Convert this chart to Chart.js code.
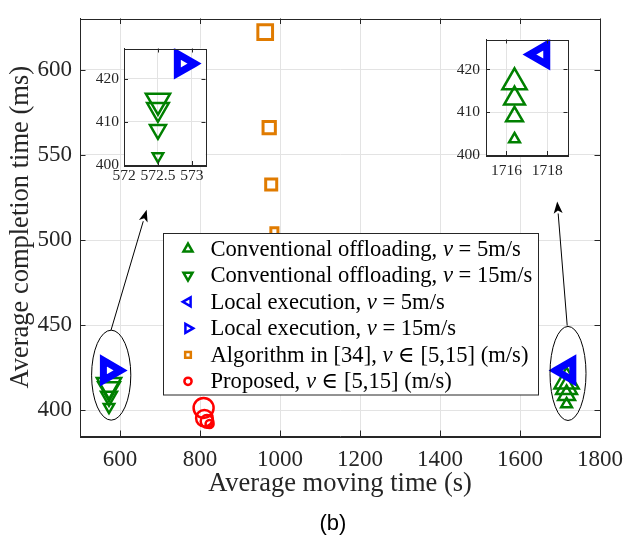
<!DOCTYPE html>
<html>
<head>
<meta charset="utf-8">
<script src="https://cdn.jsdelivr.net/npm/chart.js@4.4.1/dist/chart.umd.min.js"></script>
<style>
  body { margin: 0; background: #fff; }
  #wrap { position: relative; width: 624px; height: 541px; overflow: hidden; }
  #wrap canvas { position: absolute; }
  #cap { position: absolute; left: 283px; top: 508px; width: 100px; text-align: center;
         font: 22px "Liberation Sans", Arial, sans-serif; color: #000; line-height: 30px; }
</style>
</head>
<body>
<div id="wrap">
  <canvas id="main" width="624" height="541" style="left:0;top:0"></canvas>
  <canvas id="insetL" width="140" height="170" style="left:84px;top:30px"></canvas>
  <canvas id="insetR" width="140" height="164" style="left:446px;top:21px"></canvas>
  <div id="cap">(b)</div>
</div>
<script>
// values
const conv5X = [1716.4, 1716.4, 1716.4, 1716.4];
const conv5Y = [417.0, 413.2, 409.0, 403.7];
const conv15X = [572.5, 572.5, 572.5, 572.5];
const conv15Y = [414.9, 412.9, 408.2, 402.0];
const local5X = [1717.7];
const local5Y = [423.5];
const local15X = [572.87];
const local15Y = [423.5];
const alg34X = [963, 973, 978, 986];
const alg34Y = [622, 566, 532.6, 505.2];
const propX = [809, 811, 817.5, 824];
const propY = [401.5, 395.4, 393.6, 392.0];

const xTicks = [600, 800, 1000, 1200, 1400, 1600, 1800];
const yTicks = [400, 450, 500, 550, 600];
const insetLXTicks = [572, 572.5, 573];
const insetRXTicks = [1716, 1718];
const insetYTicks = [400, 410, 420];

const labels = [
  'Conventional offloading, v = 5m/s',
  'Conventional offloading, v = 15m/s',
  'Local execution, v = 5m/s',
  'Local execution, v = 15m/s',
  'Algorithm in [34], v \u2208 [5,15] (m/s)',
  'Proposed, v \u2208 [5,15] (m/s)'
];

// ellipses and arrows, in data units
const ellipses = [
  { cx: 578, cy: 420.7, rx: 49, ry: 26.4 },
  { cx: 1720, cy: 421.7, rx: 45, ry: 27.6 }
];
const arrows = [
  { x0: 577.5, y0: 447.1, x1: 666.7, y1: 517.8 },
  { x0: 1718, y0: 449.8, x1: 1693, y1: 522.6 }
];

const pts = (xs, ys) => xs.map((x, i) => ({ x: x, y: ys[i] }));

// marker styles
const styles = [
  { color: '#008000', pointStyle: 'triangle', rotation: 0,   radius: [14, 12, 9.7, 6.2], lw: 2.5, legR: 5.2 },
  { color: '#008000', pointStyle: 'triangle', rotation: 180, radius: [14, 12.5, 9.2, 6], lw: 2.5, legR: 5.2 },
  { color: '#0000ff', pointStyle: 'triangle', rotation: 270, radius: [11.5], lw: 7, legR: 5.2 },
  { color: '#0000ff', pointStyle: 'triangle', rotation: 90,  radius: [11.5], lw: 7, legR: 5.2 },
  { color: '#e07b00', pointStyle: 'rect', rotation: 0, radius: [10.4, 8.7, 7.8, 5], lw: 3, legR: 4 },
  { color: '#ff0000', pointStyle: 'circle', rotation: 0, radius: [10, 8.3, 6.3, 4], lw: 2.5, legR: 3.6 }
];
const seriesData = [
  pts(conv5X, conv5Y), pts(conv15X, conv15Y), pts(local5X, local5Y),
  pts(local15X, local15Y), pts(alg34X, alg34Y), pts(propX, propY)
];

function makeSet(i) {
  const s = styles[i];
  return {
    label: labels[i],
    data: seriesData[i],
    showLine: false,
    order: 10 - i,
    pointStyle: s.pointStyle,
    rotation: s.rotation,
    pointRadius: s.radius,
    pointBorderWidth: s.lw,
    borderColor: s.color,
    pointBorderColor: s.color,
    backgroundColor: 'rgba(0,0,0,0)',
    pointBackgroundColor: 'rgba(0,0,0,0)'
  };
}

const ink = '#262626';
const gridColor = '#e3e3e3';

// box on all four sides with inward ticks
const frame = {
  id: 'frame',
  afterDatasetsDraw(chart, args, opts) {
    const { ctx, chartArea: a, scales: { x, y } } = chart;
    const t = opts.tick;
    ctx.save();
    ctx.strokeStyle = ink;
    ctx.lineWidth = 1;
    ctx.beginPath();
    x.ticks.forEach(tk => {
      const px = Math.round(x.getPixelForValue(tk.value)) + 0.5;
      ctx.moveTo(px, a.bottom); ctx.lineTo(px, a.bottom - t);
      ctx.moveTo(px, a.top); ctx.lineTo(px, a.top + t);
    });
    y.ticks.forEach(tk => {
      const py = Math.round(y.getPixelForValue(tk.value)) + 0.5;
      ctx.moveTo(a.left, py); ctx.lineTo(a.left + t, py);
      ctx.moveTo(a.right, py); ctx.lineTo(a.right - t, py);
    });
    ctx.stroke();
    ctx.strokeRect(Math.round(a.left) + 0.5, Math.round(a.top) + 0.5,
                   Math.round(a.right - a.left), Math.round(a.bottom - a.top));
    ctx.restore();
  }
};

const whiteBox = {
  id: 'whiteBox',
  beforeDraw(chart) {
    const { ctx, chartArea: a } = chart;
    ctx.save();
    ctx.fillStyle = '#fff';
    ctx.fillRect(a.left, a.top, a.right - a.left, a.bottom - a.top);
    ctx.restore();
  }
};

function drawLabel(ctx, text, x, y) {
  const parts = text.split(' v ');
  const rm = '22.6px "Liberation Serif", "DejaVu Serif", serif';
  const it = 'italic 22.6px "Liberation Serif", "DejaVu Serif", serif';
  ctx.font = rm;
  ctx.fillText(parts[0] + ' ', x, y);
  x += ctx.measureText(parts[0] + ' ').width;
  ctx.font = it;
  ctx.fillText('v', x, y);
  x += ctx.measureText('v').width;
  ctx.font = rm;
  ctx.fillText(' ' + parts[1], x, y);
}

const decor = {
  id: 'decor',
  afterDatasetsDraw(chart) {
    const { ctx, scales: { x, y } } = chart;
    ctx.save();
    ctx.strokeStyle = '#000';
    ctx.fillStyle = '#000';
    ctx.lineWidth = 1;
    ellipses.forEach(e => {
      const cx = x.getPixelForValue(e.cx), cy = y.getPixelForValue(e.cy);
      const rx = Math.abs(x.getPixelForValue(e.cx + e.rx) - cx);
      const ry = Math.abs(y.getPixelForValue(e.cy + e.ry) - cy);
      ctx.beginPath();
      ctx.ellipse(cx, cy, rx, ry, 0, 0, Math.PI * 2);
      ctx.stroke();
    });
    arrows.forEach(r => {
      const x0 = x.getPixelForValue(r.x0), y0 = y.getPixelForValue(r.y0);
      const x1 = x.getPixelForValue(r.x1), y1 = y.getPixelForValue(r.y1);
      const ang = Math.atan2(y1 - y0, x1 - x0);
      const len = 12, half = 4.5;
      const bx = x1 - Math.cos(ang) * len, by = y1 - Math.sin(ang) * len;
      ctx.beginPath();
      ctx.moveTo(x0, y0); ctx.lineTo(bx, by);
      ctx.stroke();
      ctx.beginPath();
      ctx.moveTo(x1, y1);
      ctx.lineTo(bx + Math.sin(ang) * half, by - Math.cos(ang) * half);
      ctx.lineTo(x1 - Math.cos(ang) * len * 0.75, y1 - Math.sin(ang) * len * 0.75);
      ctx.lineTo(bx - Math.sin(ang) * half, by + Math.cos(ang) * half);
      ctx.closePath();
      ctx.fill();
    });

    // legend box
    const L = 163.5, T = 233.5, W = 375, H = 161.5;
    ctx.fillStyle = '#fff';
    ctx.fillRect(L, T, W, H);
    ctx.strokeStyle = ink;
    ctx.strokeRect(L, T, W, H);
    labels.forEach((lab, i) => {
      const s = styles[i];
      const ry = 248.8 + i * 26.5;
      ctx.strokeStyle = s.color;
      ctx.fillStyle = 'rgba(0,0,0,0)';
      ctx.lineWidth = 2.5;
      Chart.helpers.drawPoint(ctx, { pointStyle: s.pointStyle, rotation: s.rotation, radius: s.legR, borderWidth: 2.5 }, 188, ry);
      ctx.fillStyle = '#000';
      ctx.textBaseline = 'middle';
      ctx.textAlign = 'left';
      drawLabel(ctx, lab, 210.5, ry + 1);
    });
    ctx.restore();
  }
};

const serif = '"Liberation Serif", "DejaVu Serif", serif';
const noPad = s => { s.paddingLeft = 0; s.paddingRight = 0; s.paddingTop = 0; s.paddingBottom = 0; };

new Chart(document.getElementById('main'), {
  type: 'scatter',
  data: { datasets: [0, 1, 2, 3, 4, 5].map(makeSet) },
  options: {
    responsive: false,
    animation: false,
    events: [],
    layout: { padding: { top: 9, right: 24, left: 0, bottom: 0 } },
    plugins: { legend: { display: false }, tooltip: { enabled: false }, frame: { tick: 5.5 } },
    scales: {
      x: {
        type: 'linear', min: 500, max: 1800,
        afterBuildTicks: s => { s.ticks = xTicks.map(v => ({ value: v })); },
        afterFit: s => { s.height = 105; noPad(s); },
        grid: { color: gridColor, drawTicks: false },
        border: { color: ink },
        ticks: { padding: 10, color: ink, maxRotation: 0, autoSkip: false,
                 font: { family: serif, size: 23 }, callback: v => String(v) },
        title: { display: true, text: 'Average moving time (s)', color: ink,
                 font: { family: serif, size: 26.5 }, padding: { top: 0, bottom: 41 } }
      },
      y: {
        type: 'linear', min: 385, max: 630,
        afterBuildTicks: s => { s.ticks = yTicks.map(v => ({ value: v })); },
        afterFit: s => { s.width = 80; noPad(s); },
        grid: { color: gridColor, drawTicks: false },
        border: { color: ink },
        ticks: { padding: 8, color: ink, autoSkip: false,
                 font: { family: serif, size: 23 }, callback: v => String(v) },
        title: { display: true, text: 'Average completion time (ms)', color: ink,
                 font: { family: serif, size: 26.5 }, padding: { top: 5, bottom: 0 } }
      }
    }
  },
  plugins: [decor, frame]
});

function inset(id, sets, xmin, xmax, xt, padTop, padRight, xh, xPad, yPad) {
  new Chart(document.getElementById(id), {
    type: 'scatter',
    data: { datasets: sets.map(makeSet) },
    options: {
      responsive: false,
      animation: false,
      events: [],
      layout: { padding: { top: padTop, right: padRight, left: 0, bottom: 0 } },
      plugins: { legend: { display: false }, tooltip: { enabled: false }, frame: { tick: 4 } },
      scales: {
        x: {
          type: 'linear', min: xmin, max: xmax,
          afterBuildTicks: s => { s.ticks = xt.map(v => ({ value: v })); },
          afterFit: s => { s.height = xh; noPad(s); },
          grid: { color: gridColor, drawTicks: false },
          border: { color: ink },
          ticks: { padding: xPad, color: ink, maxRotation: 0, autoSkip: false,
                   font: { family: serif, size: 15.5 }, callback: v => String(v) }
        },
        y: {
          type: 'linear', min: 400, max: 427,
          afterBuildTicks: s => { s.ticks = insetYTicks.map(v => ({ value: v })); },
          afterFit: s => { s.width = 40; noPad(s); },
          grid: { color: gridColor, drawTicks: false },
          border: { color: ink },
          ticks: { padding: yPad, color: ink, autoSkip: false,
                   font: { family: serif, size: 15.5 }, callback: v => String(v) }
        }
      }
    },
    plugins: [whiteBox, frame]
  });
}

inset('insetL', [1, 3], 572, 573.2, insetLXTicks, 10, 6, 35, 2, 5);
inset('insetR', [0, 2], 1715, 1719, insetRXTicks, 10, 8, 30, 7, 6);
</script>
</body>
</html>
